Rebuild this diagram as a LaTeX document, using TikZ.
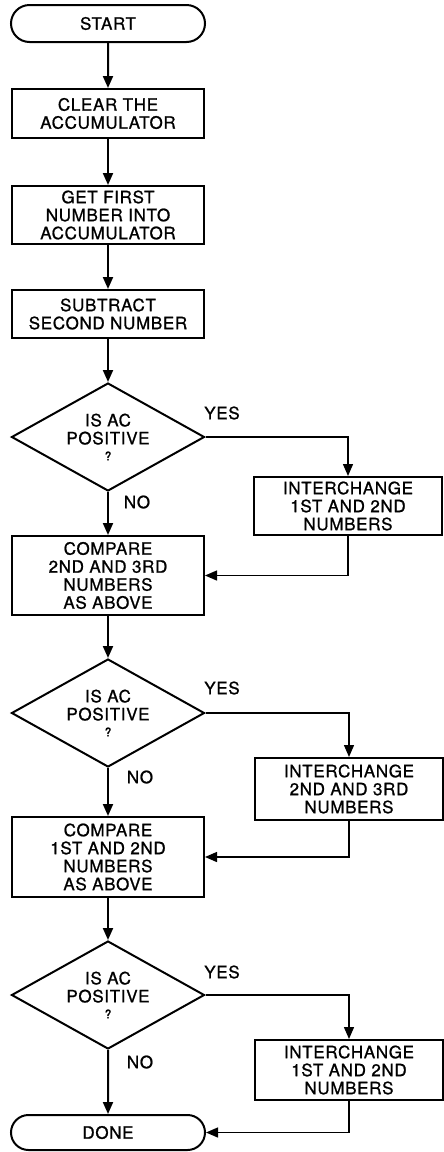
\documentclass[tikz,border=0pt]{standalone}
\usepackage{fontspec}
\setmainfont{TeX Gyre Heros}[LetterSpace=4, FakeBold=1]
\usetikzlibrary{arrows.meta, shapes.geometric, shapes.misc}
\tikzset{every node/.style = {font=\fontsize{8.5}{9}\selectfont, align=center}}
\tikzset{proc/.style = {draw, line width=1pt, inner sep=0pt, minimum width=96pt}}
\tikzset{swap/.style = {proc, minimum width=94pt}}
\tikzset{term/.style = {draw, line width=1pt, rounded rectangle, inner sep=0pt, minimum width=97pt}}
\tikzset{test/.style = {draw, line width=1pt, diamond, aspect=1.75, inner sep=0pt, minimum width=96.5pt, minimum height=54pt}}
\tikzset{flow/.style = {line width=1pt, -{Triangle[length=6pt, width=5pt]}}}
\tikzset{side/.style = {line width=0.7pt, -{Triangle[length=6pt, width=5pt]}}}
\newcommand{\qmark}{\\[-1pt]{\fontsize{6}{6}\selectfont ?}}

\begin{document}
\begin{tikzpicture}[x=0.5pt, y=-0.5pt]
\useasboundingbox (0,0) rectangle (444,1152);
\node[term, minimum height=18.5pt] (start) at (108,23.5) {START};
\node[proc, minimum height=24.5pt] (clear) at (108,113.5) {CLEAR THE\\ACCUMULATOR};
\node[proc, minimum height=29pt] (first) at (108,215) {GET FIRST\\NUMBER INTO\\ACCUMULATOR};
\node[proc, minimum height=24pt] (sub) at (108,314) {SUBTRACT\\SECOND NUMBER};
\node[test] (testa) at (108,437) {IS AC\\POSITIVE\qmark};
\node[swap, minimum height=29pt] (swapa) at (348,506) {INTERCHANGE\\1ST AND 2ND\\NUMBERS};
\node[proc, minimum height=39.5pt] (cmpa) at (108,575.5) {COMPARE\\2ND AND 3RD\\NUMBERS\\AS ABOVE};
\node[test] (testb) at (108,713) {IS AC\\POSITIVE\qmark};
\node[swap, minimum height=31pt] (swapb) at (349,789) {INTERCHANGE\\2ND AND 3RD\\NUMBERS};
\node[proc, minimum height=40pt] (cmpb) at (108,857) {COMPARE\\1ST AND 2ND\\NUMBERS\\AS ABOVE};
\node[test] (testc) at (108,995) {IS AC\\POSITIVE\qmark};
\node[swap, minimum height=30pt] (swapc) at (349,1070) {INTERCHANGE\\1ST AND 2ND\\NUMBERS};
\node[term, minimum height=17.5pt] (done) at (108,1132.5) {DONE};
\node (yesa) at (222,413) {YES};
\node (noa) at (137,502) {NO};
\node (yesb) at (222,688) {YES};
\node (nob) at (140,777) {NO};
\node (yesc) at (222,972) {YES};
\node (noc) at (140,1062) {NO};
\draw[flow] (start) -- (clear);
\draw[flow] (clear) -- (first);
\draw[flow] (first) -- (sub);
\draw[flow] (sub) -- (testa);
\draw[flow] (testa) -- (cmpa);
\draw[side] (testa.east) -| (swapa.north);
\draw[side] (swapa.south) |- (cmpa.east);
\draw[flow] (cmpa) -- (testb);
\draw[flow] (testb) -- (cmpb);
\draw[side] (testb.east) -| (swapb.north);
\draw[side] (swapb.south) |- (cmpb.east);
\draw[flow] (cmpb) -- (testc);
\draw[flow] (testc) -- (done);
\draw[side] (testc.east) -| (swapc.north);
\draw[side] (swapc.south) |- (done.east);
\end{tikzpicture}
\end{document}
